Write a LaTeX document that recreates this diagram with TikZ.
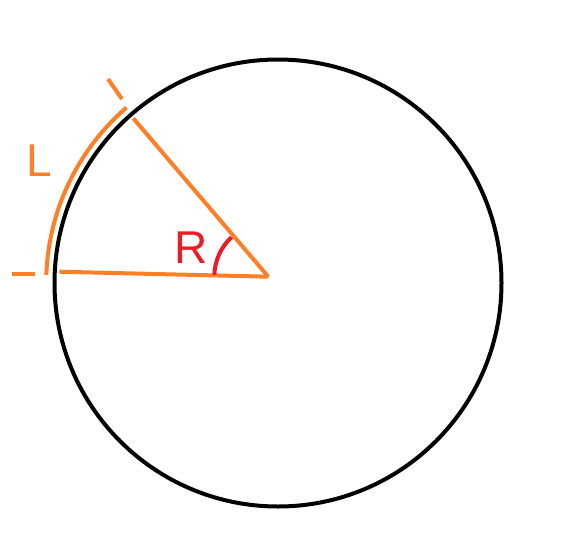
\documentclass[tikz,border=0pt]{standalone}
\usepackage{fontspec}
\setmainfont{Liberation Sans}
\definecolor{porange}{RGB}{255,127,39}
\definecolor{pred}{RGB}{237,28,36}
\begin{document}
\begin{tikzpicture}[x=1pt,y=-1pt,
  orangeline/.style={draw=porange,line width=4pt},
  redline/.style={draw=pred,line width=4pt},
  lbl/.style={font=\fontsize{46}{46}\selectfont,inner sep=0pt,anchor=base}]
\useasboundingbox (0,0) rectangle (588,554);
\coordinate (C) at (278,283);
\coordinate (O) at (268.3,276.7);
\coordinate (A) at (133.3,118.3);
\coordinate (B) at (59.3,271.7);
\coordinate (D1) at (108,79);
\coordinate (D2) at (122,99);
\coordinate (E1) at (12,274);
\coordinate (E2) at (35,274);
\draw[line width=4pt] (C) circle[radius=223.5];
\draw[orangeline] (O) -- (A);
\draw[orangeline] (O) -- (B);
\draw[orangeline] (D1) -- (D2);
\draw[orangeline] (E1) -- (E2);
\draw[orangeline] (C) ++(-178:231.8) arc[start angle=-178,end angle=-130.8,radius=231.8];
\draw[redline] (O) ++(-178:54) arc[start angle=-178,end angle=-133,radius=54];
\node[lbl,text=pred] (R) at (190.8,263.3) {R};
\node[lbl,text=porange] (L) at (39.2,176.7) {L};
\end{tikzpicture}
\end{document}
